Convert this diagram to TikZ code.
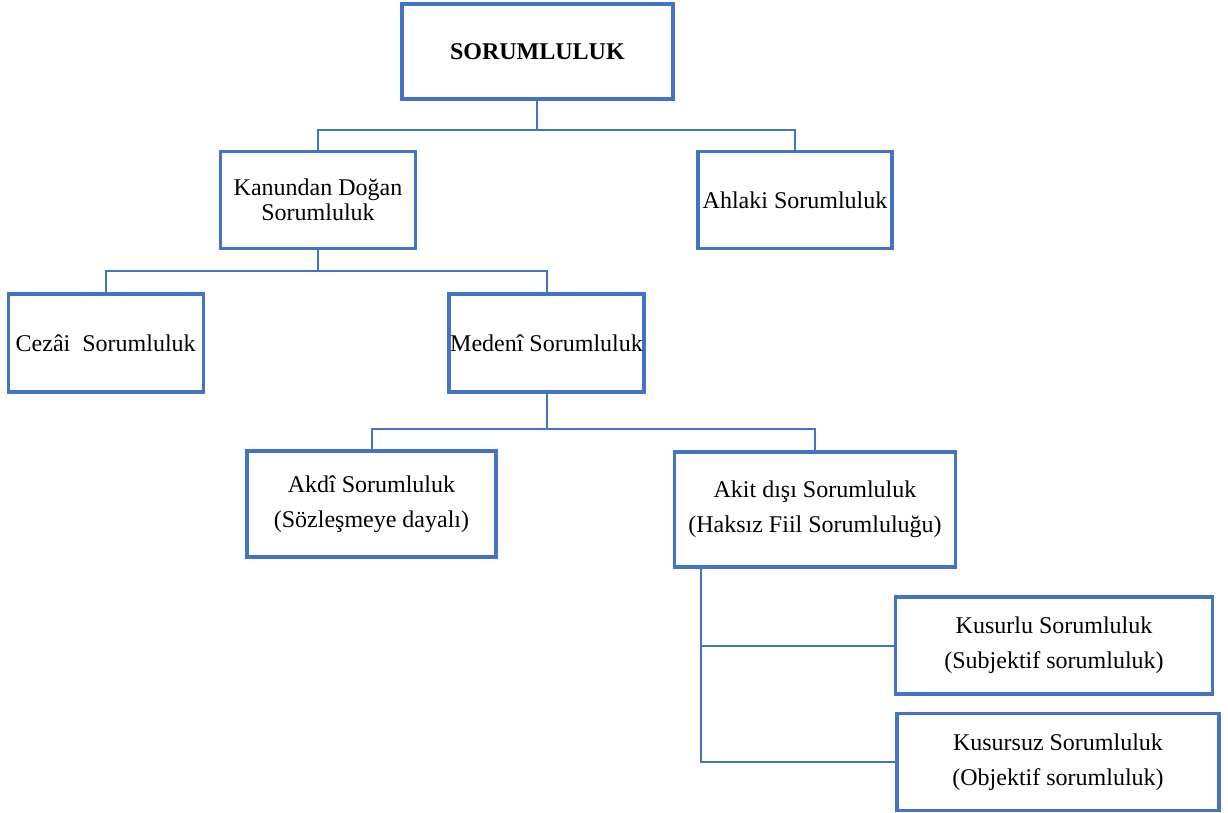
\documentclass[tikz,border=0pt]{standalone}
\usepackage{fontspec}
\setmainfont{Liberation Serif}
\definecolor{boxblue}{RGB}{68,114,196}
\begin{document}
\begin{tikzpicture}[x=1pt,y=-1pt,
  box/.style={draw=boxblue,line width=3.3pt,rectangle,inner sep=0pt,align=center,
    font=\fontsize{24}{35}\selectfont,fill=white},
  conn/.style={draw=boxblue,line width=2pt}]
\useasboundingbox (0,0) rectangle (1228,813);
\node[box,minimum width=271,minimum height=95,font=\fontsize{24}{35}\selectfont\bfseries] (top) at (537.4,51.4) {SORUMLULUK};
\node[box,minimum width=195,minimum height=97,font=\fontsize{24}{25}\selectfont] (kan) at (318,200) {Kanundan Doğan\\Sorumluluk};
\node[box,minimum width=194,minimum height=97] (ahl) at (795,200) {Ahlaki Sorumluluk};
\node[box,minimum width=195,minimum height=98] (cez) at (105.7,343) {Cezâi\ \ Sorumluluk};
\node[box,minimum width=195,minimum height=98] (med) at (546.5,343) {Medenî Sorumluluk};
\node[box,minimum width=249,minimum height=106] (akd) at (371.5,504) {Akdî Sorumluluk\\(Sözleşmeye dayalı)};
\node[box,minimum width=281,minimum height=115] (akit) at (815,509.5) {Akit dışı Sorumluluk\\(Haksız Fiil Sorumluluğu)};
\node[box,minimum width=317,minimum height=97] (kus1) at (1054,645.5) {Kusurlu Sorumluluk\\(Subjektif sorumluluk)};
\node[box,minimum width=322,minimum height=97] (kus2) at (1058,762.3) {Kusursuz Sorumluluk\\(Objektif sorumluluk)};
\begin{scope}[on background layer/.try]
\end{scope}
\draw[conn] (kan.north) -- ++(0,-20) coordinate (j1) -| (ahl.north);
\draw[conn] (top.south) -- (top.south |- j1);
\draw[conn] (cez.north) -- ++(0,-21) coordinate (j2) -| (med.north);
\draw[conn] (kan.south) -- (kan.south |- j2);
\draw[conn] (akd.north) -- ++(0,-20) coordinate (j3) -| (akit.north);
\draw[conn] (med.south) -- (med.south |- j3);
\coordinate (a0) at ([xshift=28.5pt]akit.south west);
\draw[conn] (a0) |- (kus1.west);
\draw[conn] (a0) |- (kus2.west);
\end{tikzpicture}
\end{document}
